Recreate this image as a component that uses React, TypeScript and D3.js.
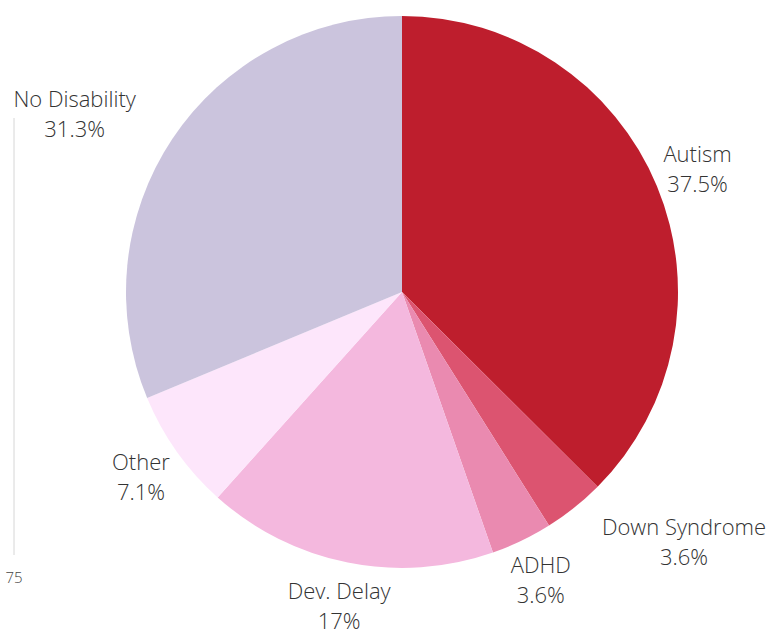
import React from "react";
import * as d3 from "d3";

const categories = ["Autism", "Down Syndrome", "ADHD", "Dev. Delay", "Other", "No Disability"];
const values = [37.5, 3.6, 3.6, 17, 7.1, 31.3];
const valueLabels = ["37.5%", "3.6%", "3.6%", "17%", "7.1%", "31.3%"];
const colors = ["#BE1E2D", "#DC5470", "#EA8AB0", "#F4B8DE", "#FDE6FB", "#CBC4DD"];
const axisTickLabel = "75";

const W = 779;
const H = 630;
const cx = 402;
const cy = 292;
const R = 276;
const labelR = 320;
const fontSize = 22;
const lineH = 30;
const FONT = "'Open Sans', sans-serif";

let ctx: CanvasRenderingContext2D | null = null;
function textWidth(s: string) {
  if (!ctx && typeof document !== "undefined") {
    ctx = document.createElement("canvas").getContext("2d");
  }
  if (ctx) {
    ctx.font = `300 ${fontSize}px 'Open Sans'`;
    return ctx.measureText(s).width;
  }
  return s.length * fontSize * 0.5;
}

export default function App() {
  const pie = d3.pie<number>().sort(null).value((d) => d);
  const arcs = pie(values);
  const arc = d3.arc<d3.PieArcDatum<number>>().innerRadius(0).outerRadius(R);
  const yScale = d3.scaleLinear().domain([0, 1]).range([118, 555]);

  return (
    <svg width={W} height={H} style={{ position: "absolute", left: 0, top: 0 }}>
      <line x1={14} x2={14} y1={yScale(0)} y2={yScale(1)} stroke="#d6d6d6" strokeWidth={1} />
      <text x={14} y={583} textAnchor="middle" fontFamily={FONT} fontWeight={300} fontSize={15} fill="#444">
        {axisTickLabel}
      </text>
      <g transform={`translate(${cx},${cy})`}>
        {arcs.map((a, i) => (
          <path key={i} d={arc(a) || ""} fill={colors[i]} />
        ))}
        {arcs.map((a, i) => {
          const mid = (a.startAngle + a.endAngle) / 2;
          const lx = labelR * Math.sin(mid);
          const ly = -labelR * Math.cos(mid);
          const w = Math.max(textWidth(categories[i]), textWidth(valueLabels[i]));
          const top = ly - lineH;
          const bottom = ly + lineH;
          const nx = lx > 0 ? lx - w / 2 : lx + w / 2;
          const ny = ly > 0 ? top + 10 : bottom - 10;
          const overlap = Math.hypot(nx, ny) < R - 5;
          let tx = lx;
          if (overlap) tx = lx > 0 ? lx + w / 2 : lx - w / 2;
          return (
            <text
              key={"l" + i}
              x={tx}
              y={ly}
              textAnchor="middle"
              fontFamily={FONT}
              fontWeight={300}
              fontSize={fontSize}
              fill="#333"
            >
              <tspan x={tx} dy={-7}>{categories[i]}</tspan>
              <tspan x={tx} dy={lineH}>{valueLabels[i]}</tspan>
            </text>
          );
        })}
      </g>
    </svg>
  );
}
